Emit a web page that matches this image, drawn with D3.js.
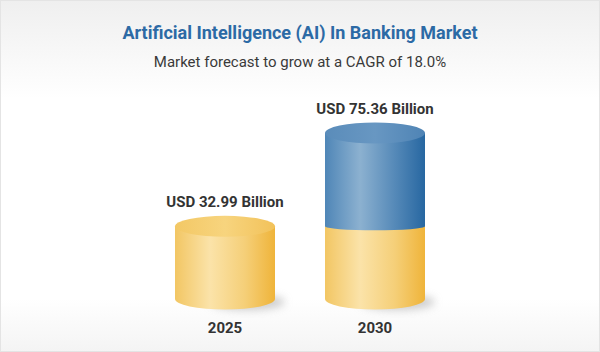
<!DOCTYPE html>
<html>
<head>
<meta charset="utf-8">
<script src="https://cdn.jsdelivr.net/npm/d3@7"></script>
<style>
  html, body { margin: 0; padding: 0; background: #fff; }
  #chart { width: 600px; height: 352px; }
  text { font-family: Roboto, 'Noto Sans', sans-serif; }
</style>
</head>
<body>
<div id="chart"></div>
<script>
// AI in banking market - cylinder bars
const years = ['2025', '2030'];
const totals = [32.99, 75.36];        // USD billion
const baseValue = 32.99;              // yellow base segment (2025 level)
const valueLabels = ['USD 32.99 Billion', 'USD 75.36 Billion'];
const title = 'Artificial Intelligence (AI) In Banking Market';
const subtitle = 'Market forecast to grow at a CAGR of 18.0%';

const W = 600, H = 352;
const svg = d3.select('#chart').append('svg').attr('width', W).attr('height', H);
const defs = svg.append('defs');

// background
const bg = defs.append('linearGradient').attr('id', 'bg').attr('x1', 0).attr('y1', 0).attr('x2', 0).attr('y2', 1);
bg.append('stop').attr('offset', '0%').attr('stop-color', '#efefef');
bg.append('stop').attr('offset', '28%').attr('stop-color', '#ffffff');
bg.append('stop').attr('offset', '85%').attr('stop-color', '#ffffff');
bg.append('stop').attr('offset', '100%').attr('stop-color', '#f4f4f4');
svg.append('rect').attr('width', W).attr('height', H).attr('fill', 'url(#bg)');
svg.append('rect').attr('x', 0.5).attr('y', 0.5).attr('width', W - 1).attr('height', H - 1)
  .attr('fill', 'none').attr('stroke', '#e4e4e4');

function hGrad(id, stops) {
  const g = defs.append('linearGradient').attr('id', id).attr('x1', 0).attr('y1', 0).attr('x2', 1).attr('y2', 0);
  stops.forEach(s => g.append('stop').attr('offset', s[0]).attr('stop-color', s[1]));
}
hGrad('yBody', [['0%', '#f2c663'], ['35%', '#fbe3a9'], ['70%', '#f5cf78'], ['100%', '#efb43a']]);
hGrad('bBody', [['0%', '#4f86b7'], ['35%', '#8cb1d0'], ['70%', '#5589b8'], ['100%', '#2767a1']]);
hGrad('yTop', [['0%', '#f3c865'], ['50%', '#f7d47e'], ['100%', '#f2c25a']]);
hGrad('bTop', [['0%', '#5a8cba'], ['50%', '#6897c2'], ['100%', '#4f84b5']]);

defs.append('filter').attr('id', 'blur').attr('x', '-50%').attr('y', '-50%').attr('width', '200%').attr('height', '200%')
  .append('feGaussianBlur').attr('stdDeviation', 4);

// titles
svg.append('text').attr('x', W / 2).attr('y', 39).attr('text-anchor', 'middle')
  .style('font-size', '18px').style('font-weight', 700).style('fill', '#2c6aa5').text(title);
svg.append('text').attr('x', W / 2).attr('y', 67).attr('text-anchor', 'middle')
  .style('font-size', '15px').style('fill', '#3a3a3a').text(subtitle);

// scales
const x = d3.scaleBand().domain(years).range([150, 450]).paddingInner(1 / 3).paddingOuter(1 / 6);
const y = d3.scaleLinear().domain([0, 75.36]).range([299, 133]);
const rx = x.bandwidth() / 2, ry = 10.5;

function body(cx, yTop, yBot, bry) {
  const x0 = cx - rx, x1 = cx + rx;
  return `M${x0},${yTop} L${x0},${yBot} A${rx},${bry} 0 0 0 ${x1},${yBot} L${x1},${yTop} Z`;
}

years.forEach((yr, i) => {
  const cx = x(yr) + rx;
  const g = svg.append('g');
  // shadow
  g.append('ellipse').attr('cx', cx + rx * 0.45).attr('cy', y(0) + 3).attr('rx', rx * 0.75).attr('ry', 8)
    .attr('fill', '#b8b8b8').attr('opacity', 0.7).attr('filter', 'url(#blur)');
  const top = y(totals[i]);
  const split = y(Math.min(baseValue, totals[i]));
  g.append('path').attr('d', body(cx, split, y(0), ry)).attr('fill', 'url(#yBody)');
  if (totals[i] > baseValue) {
    g.append('path').attr('d', body(cx, top, split, 4)).attr('fill', 'url(#bBody)');
    g.append('ellipse').attr('cx', cx).attr('cy', top).attr('rx', rx).attr('ry', ry).attr('fill', 'url(#bTop)');
  } else {
    g.append('ellipse').attr('cx', cx).attr('cy', top).attr('rx', rx).attr('ry', ry).attr('fill', 'url(#yTop)');
  }
  g.append('text').attr('x', cx).attr('y', top - ry - 9).attr('text-anchor', 'middle')
    .style('font-size', '15px').style('font-weight', 700).style('fill', '#333').text(valueLabels[i]);
  g.append('text').attr('x', cx).attr('y', 333).attr('text-anchor', 'middle')
    .style('font-size', '15px').style('font-weight', 700).style('fill', '#333').text(yr);
});
</script>
</body>
</html>
